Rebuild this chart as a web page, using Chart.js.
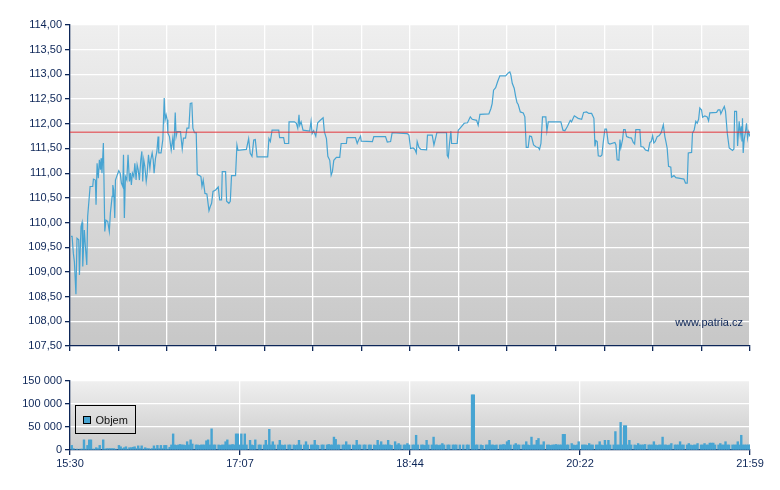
<!DOCTYPE html>
<html lang="cs">
<head>
<meta charset="UTF-8">
<title>Objem a cena</title>
<script src="https://cdn.jsdelivr.net/npm/chart.js"></script>
<style>
  body { margin: 0; background: #fff; }
  #wrap { position: relative; width: 780px; height: 490px; }
  #priceChart { position: absolute; left: 0; top: 0; }
  #volChart { position: absolute; left: 0; top: 360px; }
</style>
</head>
<body>
<div id="wrap">
  <canvas id="priceChart" width="780" height="360"></canvas>
  <canvas id="volChart" width="780" height="130"></canvas>
</div>
<script>
// minuty od 15:30 a cena obchodu
const tradeMinutes = [
  0.6, 1.2, 1.9, 2.5, 3.4, 4.0, 5.0, 5.4, 6.3, 6.9,
  7.3, 8.2, 8.8, 9.6, 10.1, 11.5, 13.0, 13.4, 14.5, 14.9,
  15.5, 16.2, 16.8, 17.4, 17.8, 18.3, 19.1, 19.9, 20.6, 21.6,
  22.5, 23.1, 24.1, 24.5, 25.0, 25.6, 26.0, 26.7, 27.9, 28.7,
  29.4, 30.2, 30.6, 31.1, 31.7, 32.5, 33.2, 34.0, 34.6, 35.1,
  35.7, 36.5, 37.1, 37.8, 38.4, 39.0, 39.7, 40.5, 41.1, 41.6,
  42.2, 42.8, 43.6, 44.1, 44.9, 45.7, 46.2, 47.0, 47.6, 48.1,
  48.9, 49.7, 50.4, 50.8, 52.1, 53.1, 53.9, 54.4, 55.0, 55.6,
  56.0, 56.9, 57.9, 58.8, 59.4, 60.2, 60.7, 61.3, 63.2, 64.2,
  64.9, 66.1, 66.9, 68.0, 68.8, 69.7, 70.3, 71.2, 72.2, 72.8,
  74.1, 74.9, 75.5, 76.2, 77.2, 78.3, 79.5, 80.2, 81.0, 81.8,
  83.3, 84.8, 85.6, 86.7, 87.1, 89.0, 89.6, 90.9, 91.7, 92.4,
  94.7, 95.5, 96.1,
  100.9, 102.2, 103.1, 104.1, 105.1, 106.0, 107.0, 113.1, 113.8, 114.6,
  115.6, 119.4, 119.9, 122.2, 122.8, 125.1, 125.3, 128.4, 129.5, 130.3,
  131.0, 131.4, 132.2, 133.3, 137.1, 137.9, 138.5, 139.4, 140.6, 141.7,
  143.2, 144.8, 145.5, 146.7, 147.5, 148.6, 149.4, 150.1, 150.9, 152.4,
  154.3, 155.1, 158.1, 158.5, 163.3, 164.3, 165.2, 166.2, 166.6, 173.0,
  173.8, 180.5, 181.5, 183.4, 184.3, 192.9, 193.9, 194.8, 196.3, 197.3,
  198.1, 198.6, 199.6,
  200.7, 204.0, 204.5, 207.2, 208.2, 209.9, 215.4, 215.8, 216.4, 217.1,
  217.9, 218.3, 221.5, 222.1, 223.2, 225.5, 227.4, 229.0, 230.1, 232.6,
  233.5, 234.5, 239.6, 240.8, 241.5, 242.3, 243.5, 244.6, 245.9, 249.2,
  250.7, 251.6, 252.2, 253.0, 254.1, 254.9, 255.7, 256.4, 257.6, 259.3,
  260.2, 261.0, 262.1, 262.9, 264.0, 265.2, 266.7, 267.9, 268.6, 269.4,
  270.3, 272.2, 272.8, 273.6, 280.8, 282.0, 283.1, 284.6, 286.2, 286.9,
  288.5, 290.7, 292.7, 293.8, 295.5, 296.8, 298.4,
  299.7, 300.3, 300.8, 301.6, 302.2, 303.5, 304.3, 305.0, 306.0, 306.9,
  307.9, 308.8, 311.7, 312.3, 313.0, 314.0, 314.6, 315.1, 316.1, 316.7,
  317.6, 318.4, 319.9, 321.2, 322.2, 323.0, 323.7, 326.0, 326.6, 327.9,
  329.2, 330.8, 331.7, 332.5, 333.3, 334.0, 334.8, 335.9, 337.1, 338.2,
  339.4, 340.3, 340.9, 341.6, 342.4, 343.7, 344.1, 345.5, 346.6, 349.8,
  351.2, 352.1, 353.1, 353.7, 355.6, 356.1, 357.1, 358.0, 358.8, 359.6,
  360.3, 361.3, 361.9, 363.2, 364.5, 365.3, 366.0, 369.9, 370.8, 371.8,
  372.3, 373.3, 374.3, 375.0, 376.0, 377.1, 377.9, 379.0, 379.8, 380.2,
  381.3, 381.9, 382.8, 383.4, 384.0, 384.4, 384.7, 385.1, 385.7, 386.3,
  387.0, 387.6, 388.2, 389.0
];
const tradePrices = [
  109.72, 109.72, 109.38, 109.21, 108.55, 109.68, 109.65, 108.94, 109.92, 110.00,
  109.11, 109.85, 109.51, 109.14, 110.12, 110.73, 110.73, 110.88, 110.86, 110.36,
  111.20, 110.90, 111.27, 111.07, 111.30, 111.00, 111.61, 109.82, 110.05, 110.02,
  109.82, 110.19, 110.53, 110.76, 110.66, 110.09, 110.86, 110.93, 111.05, 111.00,
  110.80, 110.73, 111.37, 110.09, 110.93, 110.86, 111.37, 110.83, 111.00, 110.76,
  111.00, 110.93, 111.20, 110.86, 111.17, 111.07, 110.86, 111.27, 111.44, 110.83,
  111.27, 111.14, 110.83, 110.97, 111.37, 111.10, 111.27, 111.41, 111.27, 111.00,
  111.30, 111.44, 111.74, 111.41, 111.41, 111.68, 112.52, 112.08, 112.18, 112.08,
  111.81, 111.74, 111.47, 111.71, 111.47, 112.23, 111.74, 111.84, 111.84, 111.49,
  111.71, 111.71, 111.91, 111.91, 112.41, 112.42, 111.91, 111.82, 111.82, 110.97,
  110.95, 110.93, 110.73, 110.86, 110.59, 110.58, 110.24, 110.32, 110.39, 110.63,
  110.66, 110.72, 110.46, 110.46, 111.03, 111.03, 110.43, 110.39, 110.43, 110.95,
  110.95, 111.57, 111.46,
  111.48, 111.70, 111.40, 111.34, 111.67, 111.68, 111.33, 111.33, 111.70, 111.64,
  111.87, 111.87, 111.72, 111.72, 111.60, 111.60, 112.04, 112.04, 112.01, 111.91,
  112.18, 111.97, 112.04, 111.87, 111.85, 112.05, 111.80, 111.86, 111.75, 112.02,
  112.07, 112.12, 111.84, 111.70, 111.34, 111.26, 110.96, 111.03, 111.26, 111.32,
  111.32, 111.60, 111.60, 111.72, 111.72, 111.60, 111.68, 111.75, 111.65, 111.64,
  111.74, 111.74, 111.63, 111.64, 111.82, 111.80, 111.77, 111.50, 111.51, 111.48,
  111.41, 111.64, 111.52,
  111.48, 111.47, 111.77, 111.77, 111.57, 111.82, 111.82, 111.36, 111.32, 111.60,
  111.85, 111.60, 111.60, 111.87, 111.91, 112.01, 112.02, 112.14, 112.09, 112.07,
  111.97, 112.19, 112.20, 112.31, 112.41, 112.68, 112.73, 112.85, 112.97, 112.97,
  113.03, 113.05, 112.99, 112.82, 112.72, 112.56, 112.43, 112.39, 112.24, 112.22,
  112.14, 111.52, 111.52, 111.75, 111.74, 111.57, 111.53, 111.52, 111.48, 111.60,
  112.14, 112.14, 111.85, 112.04, 112.04, 111.87, 111.86, 111.95, 112.07, 112.04,
  112.16, 112.11, 112.09, 112.23, 112.24, 112.21, 112.21,
  112.11, 111.54, 111.66, 111.64, 111.35, 111.34, 111.37, 111.61, 111.89, 111.89,
  111.61, 111.59, 111.62, 111.57, 111.27, 111.26, 111.68, 111.51, 111.68, 111.88,
  111.88, 111.74, 111.72, 111.71, 111.62, 111.59, 111.88, 111.88, 111.54, 111.53,
  111.47, 111.45, 111.62, 111.64, 111.76, 111.61, 111.64, 111.74, 111.76, 111.82,
  111.98, 111.74, 111.64, 111.51, 111.14, 111.12, 110.92, 110.95, 110.91, 110.89,
  110.88, 110.80, 110.80, 111.41, 111.42, 111.81, 111.88, 112.05, 112.01, 112.09,
  112.32, 112.28, 112.13, 112.16, 112.14, 112.06, 112.22, 112.23, 112.28, 112.28,
  112.20, 112.28, 112.35, 112.25, 111.81, 111.51, 111.49, 111.46, 111.49, 112.25,
  112.25, 111.55, 112.05, 111.78, 111.95, 111.64, 112.11, 111.41, 111.68, 111.81,
  112.01, 111.71, 111.84, 111.74
];
const refPrice = 111.83;

// objem po minutach od 15:30 do 21:59
const volumes = [
  0, 10000, 3000, 0, 2000, 0, 2000, 2000, 22000, 2000, 10000, 22000, 22000, 2000, 2000, 5000, 3000, 10000, 0, 22000,
  2000, 3000, 3000, 3000, 3000, 3000, 2000, 0, 10000, 7000, 3000, 5000, 7000, 2000, 5000, 5000, 6000, 7000, 3000, 9000,
  3000, 9000, 2000, 5000, 3000, 3000, 2000, 3000, 9000, 3000, 10000, 3000, 10000, 3000, 10000, 10000, 2000, 6000, 11000, 35000,
  11000, 10000, 11000, 12000, 11000, 11000, 10000, 18000, 11000, 22000, 13000, 0, 11000, 11000, 10000, 11000, 11000, 11000, 20000, 22000,
  11000, 46000, 11000, 11000, 0, 11000, 10000, 11000, 11000, 18000, 22000, 11000, 11000, 12000, 11000, 35000, 35000, 11000, 35000, 11000,
  35000, 11000, 0, 21000, 11000, 10000, 22000, 0, 11000, 11000, 0, 11000, 21000, 11000, 45000, 11000, 18000, 11000, 0, 11000,
  21000, 11000, 10000, 11000, 0, 11000, 11000, 0, 11000, 10000, 11000, 21000, 11000, 0, 11000, 18000, 11000, 0, 11000, 11000,
  21000, 11000, 10000, 0, 11000, 11000, 0, 11000, 12000, 11000, 11000, 28000, 23000, 11000, 11000, 0, 11000, 11000, 18000, 11000,
  11000, 0, 11000, 10000, 21000, 11000, 11000, 0, 11000, 11000, 0, 11000, 11000, 0, 11000, 10000, 21000, 11000, 18000, 11000,
  11000, 11000, 21000, 11000, 10000, 0, 18000, 11000, 14000, 11000, 0, 11000, 11000, 14000, 11000, 0, 11000, 11000, 32000, 11000,
  0, 11000, 11000, 10000, 21000, 11000, 0, 11000, 28000, 11000, 11000, 10000, 11000, 14000, 11000, 0, 11000, 11000, 0, 11000,
  11000, 11000, 0, 11000, 0, 11000, 0, 11000, 11000, 0, 120000, 120000, 11000, 11000, 0, 11000, 10000, 0, 11000, 11000,
  21000, 11000, 11000, 10000, 11000, 0, 11000, 11000, 12000, 11000, 18000, 21000, 11000, 0, 11000, 14000, 11000, 11000, 0, 11000,
  11000, 18000, 11000, 10000, 28000, 11000, 11000, 21000, 25000, 11000, 11000, 18000, 0, 11000, 11000, 10000, 11000, 11000, 12000, 11000,
  11000, 11000, 34000, 34000, 11000, 11000, 0, 14000, 11000, 10000, 11000, 18000, 0, 11000, 11000, 11000, 10000, 14000, 11000, 11000,
  0, 11000, 11000, 18000, 11000, 10000, 21000, 11000, 21000, 11000, 0, 11000, 40000, 11000, 11000, 60000, 11000, 53000, 53000, 11000,
  21000, 11000, 0, 11000, 10000, 14000, 11000, 11000, 11000, 12000, 0, 11000, 11000, 11000, 18000, 11000, 10000, 11000, 11000, 28000,
  11000, 11000, 10000, 11000, 14000, 0, 11000, 11000, 11000, 18000, 11000, 11000, 0, 11000, 14000, 11000, 10000, 11000, 11000, 14000,
  0, 11000, 11000, 14000, 11000, 11000, 15000, 15000, 15000, 11000, 0, 11000, 14000, 11000, 11000, 18000, 11000, 11000, 0, 11000,
  11000, 11000, 18000, 11000, 32000, 11000, 11000, 11000, 11000, 11000
];

const priceTicks = [107.5, 108, 108.5, 109, 109.5, 110, 110.5, 111, 111.5, 112, 112.5, 113, 113.5, 114];
const volumeTicks = [0, 50000, 100000, 150000];
const timeTicks = [0, 97.25, 194.5, 291.75, 389];
const timeLabels = ['15:30', '17:07', '18:44', '20:22', '21:59'];
const sessionEnd = 389;
const gridSteps = 14;

const navy = '#0d2658';
const blue = '#47a4d2';
Chart.defaults.font.family = "Arial, 'Liberation Sans', sans-serif";
Chart.defaults.font.size = 11;
Chart.defaults.color = navy;

function gradientBg(top, bottom) {
    return {
        id: 'gradientBg',
        beforeDraw(chart) {
            const { ctx, chartArea: a } = chart;
            const g = ctx.createLinearGradient(0, a.top, 0, a.bottom);
            g.addColorStop(0, top);
            g.addColorStop(1, bottom);
            ctx.save();
            ctx.fillStyle = g;
            ctx.fillRect(a.left, a.top, a.right - a.left, a.bottom - a.top);
            ctx.restore();
        }
    };
}

const watermark = {
    id: 'watermark',
    afterDraw(chart) {
        const { ctx, chartArea: a } = chart;
        ctx.save();
        ctx.font = "11px Arial, 'Liberation Sans', sans-serif";
        ctx.fillStyle = navy;
        ctx.textAlign = 'right';
        ctx.textBaseline = 'middle';
        ctx.fillText('www.patria.cz', a.right - 7, a.bottom - 23);
        ctx.restore();
    }
};

const volLegend = {
    id: 'volLegend',
    afterDraw(chart) {
        const { ctx, chartArea: a } = chart;
        const x = a.left + 5.5, y = a.top + 24.5;
        ctx.save();
        ctx.strokeStyle = '#000';
        ctx.lineWidth = 1;
        ctx.strokeRect(x, y, 60, 28);
        ctx.fillStyle = blue;
        ctx.fillRect(x + 8, y + 11, 7, 7);
        ctx.strokeRect(x + 8, y + 11, 7, 7);
        ctx.fillStyle = '#111';
        ctx.font = "11px Arial, 'Liberation Sans', sans-serif";
        ctx.textBaseline = 'middle';
        ctx.fillText(chart.data.datasets[0].label, x + 20, y + 15);
        ctx.restore();
    }
};

const pricePoints = tradeMinutes.map((m, i) => ({ x: m, y: tradePrices[i] }));
const gridTimes = [];
for (let i = 0; i <= gridSteps; i++) gridTimes.push(sessionEnd * i / gridSteps);

new Chart(document.getElementById('priceChart'), {
    type: 'line',
    data: {
        datasets: [
            {
                label: 'Referenční cena',
                data: [{ x: 0, y: refPrice }, { x: sessionEnd, y: refPrice }],
                borderColor: '#e3363c',
                borderWidth: 1,
                pointRadius: 0
            },
            {
                label: 'Cena',
                data: pricePoints,
                borderColor: blue,
                borderWidth: 1.2,
                pointRadius: 0,
                tension: 0
            }
        ]
    },
    options: {
        responsive: false,
        animation: false,
        events: [],
        layout: { padding: { top: 25, right: 30, left: 0, bottom: 0 } },
        plugins: { legend: { display: false }, tooltip: { enabled: false } },
        scales: {
            x: {
                type: 'linear',
                min: 0,
                max: sessionEnd,
                afterBuildTicks(s) { s.ticks = gridTimes.map(v => ({ value: v })); },
                afterFit(s) { s.height = 14; },
                ticks: { display: false, autoSkip: false },
                grid: {
                    color: c => (c.index === 0 ? 'rgba(0,0,0,0)' : '#ffffff'),
                    lineWidth: 1.3,
                    tickLength: 5,
                    tickColor: navy
                },
                border: { color: navy, width: 1.3 }
            },
            y: {
                min: 107.5,
                max: 114,
                afterBuildTicks(s) { s.ticks = priceTicks.map(v => ({ value: v })); },
                afterFit(s) { s.width = 70; },
                ticks: {
                    color: navy,
                    padding: 3,
                    autoSkip: false,
                    callback: v => v.toFixed(2).replace('.', ',')
                },
                grid: {
                    color: c => (c.tick && c.tick.value === 107.5 ? 'rgba(0,0,0,0)' : '#ffffff'),
                    lineWidth: 1.3,
                    tickLength: 5,
                    tickColor: navy
                },
                border: { color: navy, width: 1.3 }
            }
        }
    },
    plugins: [gradientBg('#efefef', '#c7c7c7'), watermark]
});

new Chart(document.getElementById('volChart'), {
    type: 'bar',
    data: {
        datasets: [{
            label: 'Objem',
            data: volumes.map((v, i) => ({ x: i, y: v })),
            backgroundColor: blue,
            borderWidth: 0,
            barPercentage: 1,
            categoryPercentage: 1
        }]
    },
    options: {
        responsive: false,
        animation: false,
        events: [],
        layout: { padding: { top: 21, right: 30, left: 0, bottom: 0 } },
        plugins: { legend: { display: false }, tooltip: { enabled: false } },
        scales: {
            x: {
                type: 'linear',
                min: 0,
                max: sessionEnd,
                offset: false,
                afterBuildTicks(s) { s.ticks = timeTicks.map(v => ({ value: v })); },
                afterFit(s) { s.height = 40; },
                ticks: {
                    color: navy,
                    autoSkip: false,
                    maxRotation: 0,
                    padding: 2,
                    callback: (v, i) => timeLabels[i]
                },
                grid: {
                    offset: false,
                    color: c => (c.index === 0 ? 'rgba(0,0,0,0)' : '#ffffff'),
                    lineWidth: 1.3,
                    tickLength: 5,
                    tickColor: navy
                },
                border: { color: navy, width: 1.3 }
            },
            y: {
                min: 0,
                max: 150000,
                afterBuildTicks(s) { s.ticks = volumeTicks.map(v => ({ value: v })); },
                afterFit(s) { s.width = 70; },
                ticks: {
                    color: navy,
                    padding: 3,
                    autoSkip: false,
                    callback: v => String(v).replace(/\B(?=(\d{3})+(?!\d))/g, ' ')
                },
                grid: {
                    color: c => (c.tick && c.tick.value === 0 ? 'rgba(0,0,0,0)' : '#ffffff'),
                    lineWidth: 1.3,
                    tickLength: 5,
                    tickColor: navy
                },
                border: { color: navy, width: 1.3 }
            }
        }
    },
    plugins: [gradientBg('#efefef', '#cacaca'), volLegend]
});
</script>
</body>
</html>
